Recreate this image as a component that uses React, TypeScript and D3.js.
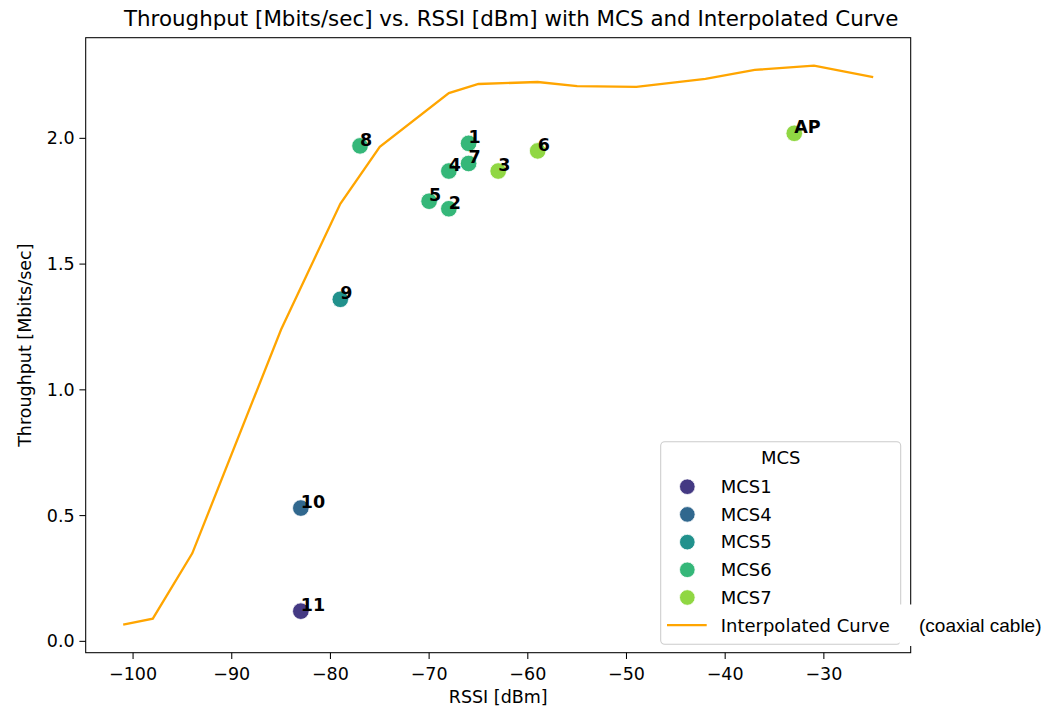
import React from "react";
import * as d3 from "d3";

const curveX = [-101, -98, -94, -85, -79, -75, -68, -65, -59, -55, -49, -42, -37, -31, -25];
const curveY = [0.066, 0.09, 0.35, 1.24, 1.74, 1.966, 2.18, 2.216, 2.224, 2.208, 2.205, 2.236, 2.272, 2.289, 2.243];

const pointLabels = ["8", "1", "7", "4", "3", "6", "5", "2", "9", "10", "11", "AP"];
const pointX = [-77, -66, -66, -68, -63, -59, -70, -68, -79, -83, -83, -33];
const pointY = [1.97, 1.98, 1.90, 1.87, 1.87, 1.95, 1.75, 1.72, 1.36, 0.53, 0.12, 2.02];
const pointMCS = ["MCS6", "MCS6", "MCS6", "MCS6", "MCS7", "MCS7", "MCS6", "MCS6", "MCS5", "MCS4", "MCS1", "MCS7"];

const mcsLevels = ["MCS1", "MCS4", "MCS5", "MCS6", "MCS7"];
const xTicks = [-100, -90, -80, -70, -60, -50, -40, -30];
const yTicks = [0.0, 0.5, 1.0, 1.5, 2.0];

const FONT = "DejaVu Sans, sans-serif";

export default function App() {
  const W = 1041, H = 710;
  const left = 85.7, right = 910.7, top = 37.7, bottom = 652.7;

  const allX = [...curveX, ...pointX];
  const allY = [...curveY, ...pointY];
  const [x0, x1] = d3.extent(allX) as [number, number];
  const [y0, y1] = d3.extent(allY) as [number, number];
  const mx = (x1 - x0) * 0.05, my = (y1 - y0) * 0.05;

  const x = d3.scaleLinear().domain([x0 - mx, x1 + mx]).range([left, right]);
  const y = d3.scaleLinear().domain([y0 - my, y1 + my]).range([bottom, top]);

  const color = d3.scaleOrdinal<string, string>()
    .domain(mcsLevels)
    .range(mcsLevels.map((_, i) => d3.interpolateViridis((i + 1) / (mcsLevels.length + 1))));

  const line = d3.line<number>().x((_, i) => x(curveX[i])).y((_, i) => y(curveY[i]));
  const curvePts = curveX.map((_, i) => i);

  const fs = 17.5;
  const lfs = 18;
  const fmtX = (v: number) => (v < 0 ? "\u2212" + Math.abs(v) : String(v));

  const lgX = 660.7, lgY = 441.7, lgW = 240, lgH = 202.5;
  const rowY0 = 486.7, rowStep = 27.7;

  return (
    <svg width={W} height={H} style={{ position: "absolute", left: 0, top: 0 }} fontFamily={FONT}>
      <rect x={0} y={0} width={W} height={H} fill="#fff" />
      <text x={(left + right) / 2 + 13} y={26} textAnchor="middle" fontSize={21.4} fill="#000">
        Throughput [Mbits/sec] vs. RSSI [dBm] with MCS and Interpolated Curve
      </text>

      <path d={line(curvePts) || ""} fill="none" stroke="#ffa500" strokeWidth={2.3} strokeLinejoin="miter" />

      {pointX.map((px, i) => (
        <circle key={"p" + i} cx={x(px)} cy={y(pointY[i])} r={8.3} fill={color(pointMCS[i])} stroke="#fff" strokeWidth={0.8} />
      ))}
      {pointX.map((px, i) => (
        <text key={"t" + i} x={x(px)} y={y(pointY[i])} fontSize={fs} fontWeight="bold" fill="#000">
          {pointLabels[i]}
        </text>
      ))}

      <rect x={left} y={top} width={right - left} height={bottom - top} fill="none" stroke="#000" strokeWidth={1.05} />

      {xTicks.map((t) => (
        <g key={"xt" + t}>
          <line x1={x(t)} x2={x(t)} y1={bottom} y2={bottom + 6.3} stroke="#000" strokeWidth={1.05} />
          <text x={x(t)} y={680} textAnchor="middle" fontSize={fs} fill="#000">{fmtX(t)}</text>
        </g>
      ))}
      <text x={(left + right) / 2} y={703} textAnchor="middle" fontSize={fs} fill="#000">RSSI [dBm]</text>

      {yTicks.map((t) => (
        <g key={"yt" + t}>
          <line x1={left - 6.3} x2={left} y1={y(t)} y2={y(t)} stroke="#000" strokeWidth={1.05} />
          <text x={left - 11} y={y(t)} dy="0.35em" textAnchor="end" fontSize={fs} fill="#000">{t.toFixed(1)}</text>
        </g>
      ))}
      <text transform={`translate(31, ${(top + bottom) / 2}) rotate(-90)`} textAnchor="middle" fontSize={fs} fill="#000">
        Throughput [Mbits/sec]
      </text>

      <rect x={lgX} y={lgY} width={lgW} height={lgH} rx={4} fill="#fff" fillOpacity={0.8} stroke="#cccccc" strokeWidth={1.05} />
      <text x={lgX + lgW / 2} y={464} textAnchor="middle" fontSize={lfs} fill="#000">MCS</text>
      {mcsLevels.map((m, i) => (
        <g key={"lg" + m}>
          <circle cx={687.3} cy={rowY0 + i * rowStep} r={7.8} fill={color(m)} stroke="#fff" strokeWidth={0.8} />
          <text x={720.7} y={rowY0 + i * rowStep} dy="0.35em" fontSize={lfs} fill="#000">{m}</text>
        </g>
      ))}
      <line x1={667} x2={706.7} y1={rowY0 + 5 * rowStep} y2={rowY0 + 5 * rowStep} stroke="#ffa500" strokeWidth={2.3} />
      <text x={720.7} y={rowY0 + 5 * rowStep} dy="0.35em" fontSize={lfs} fill="#000">Interpolated Curve</text>

      <rect x={899.5} y={604.5} width={141.5} height={41.5} fill="#fff" />
      <text x={919} y={632} fontSize={19} fontFamily="Liberation Sans, Arial, sans-serif" fill="#000">(coaxial cable)</text>
    </svg>
  );
}
